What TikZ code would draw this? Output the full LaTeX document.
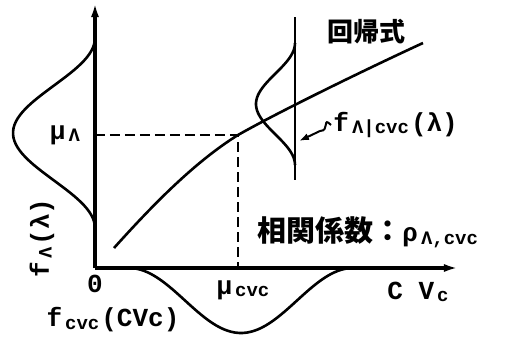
\documentclass[tikz,border=0pt]{standalone}
\usepackage{fontspec}
\setmainfont{Liberation Mono}
\newfontfamily\jpfont{Noto Sans CJK JP}
\usetikzlibrary{arrows.meta}
\newcommand{\subtx}[1]{\hspace{1.5pt}\raisebox{-0.2ex}{\fontsize{9.5}{9.5}\selectfont #1}\hspace{1pt}}
\tikzset{
  axis/.style={line width=1.7pt, -{Latex[length=7pt,width=4pt]}},
  curve/.style={line width=1.3pt},
  guide/.style={line width=1.2pt, dash pattern=on 5pt off 2.5pt},
  lab/.style={font=\fontsize{13}{13}\selectfont\bfseries, inner sep=0pt},
  jplab/.style={font=\fontsize{13}{13}\selectfont\jpfont\bfseries, inner sep=0pt},
}
\begin{document}
\begin{tikzpicture}[x=0.5pt,y=-0.5pt]
\useasboundingbox (0,0) rectangle (505,343);
\coordinate (o) at (95,268);
\coordinate (ytip) at (95,3);
\coordinate (xtip) at (458,268);
\coordinate (mu) at (238,135);
\coordinate (mul) at (95,135);
\coordinate (mub) at (238,268);
% axes
\draw[axis] (o) -- (ytip);
\draw[axis] (o) -- (xtip);
% mean guides
\draw[guide] (mul) -- (mu) -- (mub);
% regression
\draw[curve] (114,248) .. controls (150,208) and (193,163) .. (mu)
  .. controls (282,110) and (373,66) .. (423,43);
% densities
\draw[curve] plot[domain=-1:1,samples=60] ({95-82*(1+cos(\x*180))/2},{133+95*\x});
\draw[curve] plot[domain=-1:1,samples=60] ({241+112*\x},{268+65*(1+cos(\x*180))/2});
\draw[curve] (295,17) -- (295,180);
\draw[curve] plot[domain=-1:1,samples=50] ({295-39*(1+cos(\x*180))/2},{104+61*\x});
% labels
\node[jplab] (reg) at (367,32) {回帰式};
\node[lab, anchor=west] (fcond) at (333,125) {f\subtx{Λ|cvc}(λ)};
\coordinate (tip) at (299,141);
\draw[line width=1pt, -{Latex[length=5pt,width=3.5pt]}] ([xshift=-1pt]fcond.west)
  .. controls (322,116) and (330,131) .. (320,131) -- (tip);
\node[lab] (mulab) at (65,135) {μ\subtx{Λ}};
\node[lab, rotate=90] (flab) at (42,238) {f\subtx{Λ}(λ)};
\node[lab] (zero) at (95,284) {0};
\node[lab] (mucvc) at (243,290) {μ\subtx{cvc}};
\node[lab] (cvlab) at (418,292) {C V\subtx{c}};
\node[lab] (fcvc) at (113,320) {f\subtx{cvc}(CVc)};
\node[lab, anchor=west] (corr) at (257,232)
  {{\jpfont\bfseries\fontsize{14.5}{14.5}\selectfont 相関係数：}ρ\subtx{Λ,cvc}};
\end{tikzpicture}
\end{document}
